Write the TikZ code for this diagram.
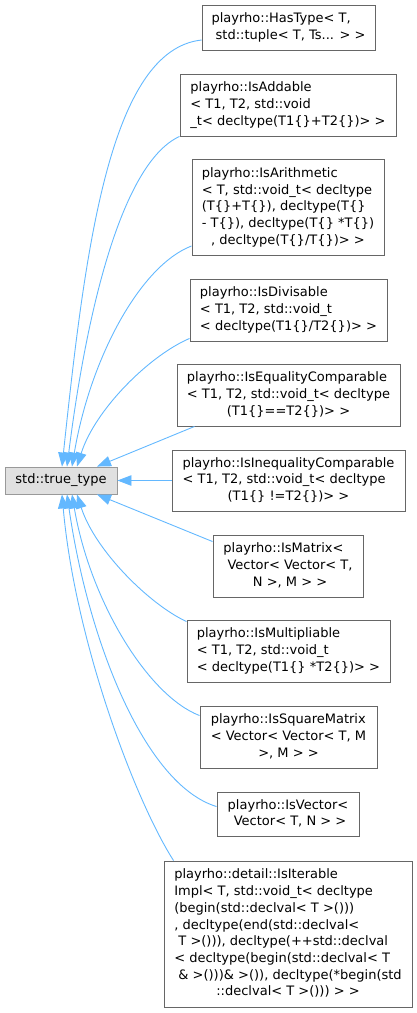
\documentclass[tikz,border=0pt]{standalone}
\usepackage{fontspec}
\setmainfont{DejaVu Sans}
\usepackage{array}
\usetikzlibrary{arrows.meta}

\definecolor{edgeblue}{HTML}{63B8FF}
\definecolor{boxgray}{HTML}{666666}
\definecolor{basegray}{HTML}{999999}
\definecolor{basefill}{HTML}{E0E0E0}

% label lines flush left, the last one centred
\newcommand{\labellines}[1]{\begin{tabular}{@{}l@{}}#1\end{tabular}}
\newcommand{\centerrow}[1]{\multicolumn{1}{@{}c@{}}{#1}}

\begin{document}
\begin{tikzpicture}[x=1pt,y=-1pt]
    \tikzset{
        box/.style={
            draw,line width=0.9pt,inner sep=1pt,
            font=\fontsize{13}{16.7}\selectfont
        },
        base/.style={box,draw=basegray,fill=basefill},
        derived/.style={box,draw=boxgray,fill=white},
        edge/.style={draw=edgeblue,line width=0.9pt,
            -{Triangle[length=14pt,width=10.5pt]}}
    }
    \useasboundingbox (0,0) rectangle (417,1013);

    \node[base,minimum width=112pt,minimum height=27pt] (base) at (61,480.5)
        {std::true\_type};

    \node[derived,minimum width=173pt,minimum height=45pt] (hastype) at (288.5,27.5)
        {\labellines{playrho::HasType< T,\\\centerrow{\ std::tuple< T, Ts... > >}}};
    \node[derived,minimum width=216pt,minimum height=62pt] (isaddable) at (288,105)
        {\labellines{playrho::IsAddable\\< T1, T2, std::void\\\centerrow{\_t< decltype(T1\{\}+T2\{\})> >}}};
    \node[derived,minimum width=192pt,minimum height=96pt] (isarith) at (288,207.5)
        {\labellines{playrho::IsArithmetic\\< T, std::void\_t< decltype\\(T\{\}+T\{\}), decltype(T\{\}\\- T\{\}), decltype(T\{\} *T\{\})\\\centerrow{, decltype(T\{\}/T\{\})> >}}};
    \node[derived,minimum width=197pt,minimum height=62pt] (isdiv) at (288.5,310)
        {\labellines{playrho::IsDivisable\\< T1, T2, std::void\_t\\\centerrow{< decltype(T1\{\}/T2\{\})> >}}};
    \node[derived,minimum width=223pt,minimum height=62pt] (iseq) at (288.5,395)
        {\labellines{playrho::IsEqualityComparable\\< T1, T2, std::void\_t< decltype\\\centerrow{(T1\{\}==T2\{\})> >}}};
    \node[derived,minimum width=233pt,minimum height=61pt] (isineq) at (288.5,480.5)
        {\labellines{playrho::IsInequalityComparable\\< T1, T2, std::void\_t< decltype\\\centerrow{(T1\{\} !=T2\{\})> >}}};
    \node[derived,minimum width=150pt,minimum height=62pt] (ismatrix) at (288,566)
        {\labellines{playrho::IsMatrix<\\\ Vector< Vector< T,\\\centerrow{\ N >, M > >}}};
    \node[derived,minimum width=203pt,minimum height=62pt] (ismult) at (288.5,651)
        {\labellines{playrho::IsMultipliable\\< T1, T2, std::void\_t\\\centerrow{< decltype(T1\{\} *T2\{\})> >}}};
    \node[derived,minimum width=177pt,minimum height=62pt] (issq) at (288.5,737)
        {\labellines{playrho::IsSquareMatrix\\< Vector< Vector< T, M\\\centerrow{>, M > >}}};
    \node[derived,minimum width=142pt,minimum height=44pt] (isvec) at (288,814)
        {\labellines{playrho::IsVector<\\\centerrow{\ Vector< T, N > >}}};
    \node[derived,minimum width=248pt,minimum height=146pt] (isiter) at (288,934)
        {\labellines{playrho::detail::IsIterable\\Impl< T, std::void\_t< decltype\\(begin(std::declval< T >()))\\, decltype(end(std::declval<\\\ T >())), decltype(++std::declval\\< decltype(begin(std::declval< T\\\ \& >()))\& >()), decltype(*begin(std\\\centerrow{::declval< T >())) > >}}};

    % inheritance edges, arrow at the base class
    \draw[edge] ([yshift=-12.5pt]hastype.west) .. controls +(-92,10) and +(23,-217) .. ([xshift=1pt]base.north);
    \draw[edge] (isaddable.south west) .. controls +(-55,25) and +(21,-167) .. ([xshift=6pt]base.north);
    \draw[edge] ([yshift=10pt]isarith.south west) .. controls +(-52,20) and +(18,-107) .. ([xshift=11pt]base.north);
    \draw[edge] ([yshift=3pt]isdiv.south west) .. controls +(-40,17) and +(18,-57) .. ([xshift=16pt]base.north);
    \draw[edge] ([xshift=18pt]iseq.south west) -- ([xshift=36pt]base.north);
    \draw[edge] (isineq.west) -- (base.east);
    \draw[edge] ([yshift=-7pt]ismatrix.north west) -- ([xshift=36pt]base.south);
    \draw[edge] ([yshift=-2pt]ismult.north west) .. controls +(-37,-17) and +(18,56) .. ([xshift=16pt]base.south);
    \draw[edge] ([yshift=-10pt]issq.north west) .. controls +(-52,-20) and +(18,106) .. ([xshift=11pt]base.south);
    \draw[edge] ([yshift=-15pt]isvec.north west) .. controls +(-72,-22) and +(21,146) .. ([xshift=6pt]base.south);
    \draw[edge] ([xshift=10pt]isiter.north west) .. controls +(-39,-61) and +(13,146) .. ([xshift=1pt]base.south);
\end{tikzpicture}
\end{document}
